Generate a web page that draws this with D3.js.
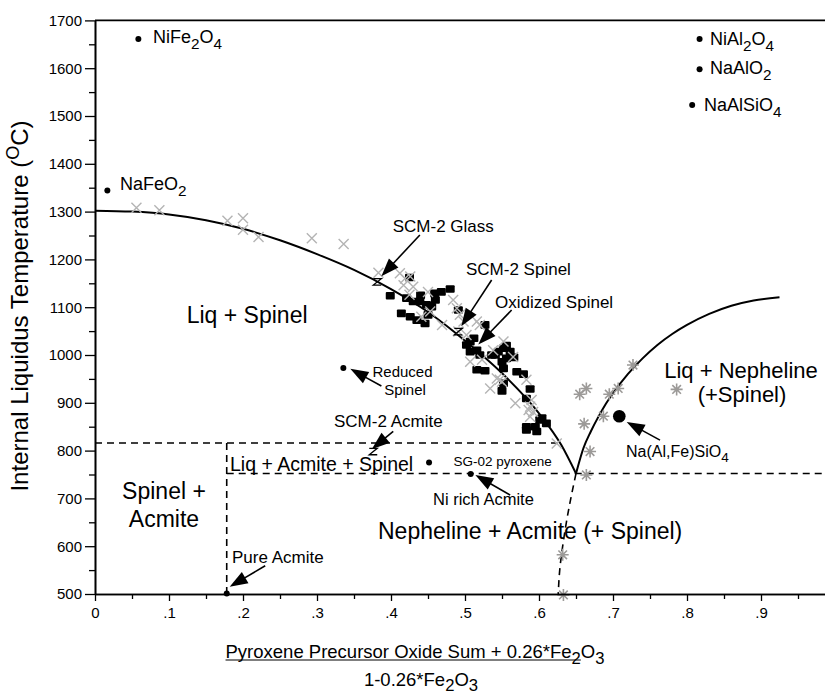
<!DOCTYPE html>
<html><head><meta charset="utf-8">
<script src="https://cdn.jsdelivr.net/npm/d3@7"></script>
<style>
body{margin:0;background:#fff}
svg{display:block}
text{font-family:Arial,"Liberation Sans",Helvetica,sans-serif;fill:#000}
</style>
</head><body>
<svg id="chart" width="825" height="698"></svg>
<script>
// ---------------- data ----------------
const yTicks = [500,600,700,800,900,1000,1100,1200,1300,1400,1500,1600,1700];
const yMinorTicks = [550,650,750,850,950,1050,1150,1250,1350,1450,1550,1650];
const xTicks = [0,0.1,0.2,0.3,0.4,0.5,0.6,0.7,0.8,0.9];
const xTickLabels = ["0",".1",".2",".3",".4",".5",".6",".7",".8",".9"];
const xMinorTicks = [0.05,0.15,0.25,0.35,0.45,0.55,0.65,0.75,0.85,0.95];

// liquidus / phase boundary curves [x, T]
const spinelLiquidus = [[0,1302],[0.05,1300],[0.1,1294],[0.15,1282],[0.2,1264],[0.25,1240],[0.3,1211],[0.35,1178],[0.4,1138],[0.45,1090],[0.5,1030],[0.55,962],[0.6,878],[0.63,812],[0.65,752]];
const nephelineLiquidus = [[0.65,752],[0.655,780],[0.66,805],[0.67,840],[0.68,870],[0.69,897],[0.70,920],[0.72,960],[0.74,993],[0.76,1021],[0.78,1044],[0.80,1063],[0.83,1086],[0.86,1103],[0.89,1114],[0.925,1121]];
const nephelineSolvus = [[0.65,752],[0.643,700],[0.637,650],[0.632,600],[0.628,550],[0.626,500]];
const acmiteUpper = [[0,816],[0.627,816]];
const acmiteVertical = [[0.178,816],[0.178,500]];
const acmiteLower = [[0.178,752],[1.0,752]];

// glass compositions (grey crosses)
const glassPoints = [[0.056,1308],[0.087,1303],[0.179,1281],[0.200,1286],[0.200,1262],[0.221,1247],[0.293,1244],[0.336,1232],[0.383,1172],[0.412,1171],[0.419,1160],[0.426,1164],[0.417,1146],[0.430,1143],[0.425,1126],[0.450,1132],[0.441,1080],[0.453,1091],[0.469,1063],[0.484,1115],[0.489,1098],[0.493,1084],[0.498,1070],[0.491,1049],[0.502,1042],[0.516,1070],[0.520,1063],[0.507,986],[0.523,990],[0.552,1028],[0.565,996],[0.543,951],[0.550,944],[0.534,930],[0.583,948],[0.568,899],[0.588,892],[0.592,881],[0.588,871],[0.624,815],[0.538,1010],[0.547,948],[0.586,885],[0.590,906]];
// spinel compositions (black squares)
const spinelPoints = [[0.399,1124],[0.425,1162],[0.421,1119],[0.430,1112],[0.439,1112],[0.448,1105],[0.455,1101],[0.459,1129],[0.468,1132],[0.480,1138],[0.414,1087],[0.426,1080],[0.435,1073],[0.446,1066],[0.450,1084],[0.491,1094],[0.502,1021],[0.507,1007],[0.516,1010],[0.527,1063],[0.536,1000],[0.545,1007],[0.552,1014],[0.556,993],[0.550,986],[0.552,972],[0.516,969],[0.527,967],[0.570,965],[0.579,960],[0.588,929],[0.550,925],[0.583,909],[0.604,868],[0.507,1028],[0.561,1007],[0.552,941],[0.601,864],[0.583,850],[0.595,850],[0.610,857],[0.583,843],[0.597,840],[0.541,1000],[0.556,1020],[0.566,995],[0.512,1035],[0.520,1000],[0.460,1115],[0.440,1125]];
// nepheline compositions (grey asterisks)
const nephelinePoints = [[0.727,979],[0.655,918],[0.664,930],[0.695,918],[0.707,930],[0.786,928],[0.687,872],[0.661,856],[0.669,798],[0.664,749],[0.632,582],[0.633,498]];
// SCM-2 phases (hourglass)
const scmPoints = [[0.3815,1153],[0.491,1049],[0.376,798]];

// end members / reference compositions
const endMemberNames = ["NiFe_2O_4","NaFeO_2","NiAl_2O_4","NaAlO_2","NaAlSiO_4"];
const endMemberX = [0.0586,0.0167,0.817,0.817,0.807];
const endMemberT = [1661,1344,1661,1598,1523];

const refNames = ["Reduced Spinel","SG-02 pyroxene","Ni rich Acmite","Pure Acmite"];
const refX = [0.3356,0.4514,0.5077,0.178];
const refT = [973,775,751,501];
const nephelineRef = [0.7085,872];

const regionLabels = ["Liq + Spinel","Spinel +","Acmite","Nepheline + Acmite (+ Spinel)","Liq + Nepheline","(+Spinel)","Liq + Acmite + Spinel"];
const calloutLabels = ["SCM-2 Glass","SCM-2 Spinel","Oxidized Spinel","SCM-2 Acmite","Reduced","Spinel","SG-02 pyroxene","Ni rich Acmite","Pure Acmite","Na(Al,Fe)SiO_4"];
// arrows: [tailX, tailT, tipX, tipT]
const arrows = [[0.439,1251,0.387,1165],[0.536,1157,0.495,1060],[0.563,1094,0.518,1022],[0.387,935,0.345,971],[0.403,840,0.374,803],[0.561,707,0.514,749],[0.230,559,0.182,515],[0.7635,822,0.7185,860]];

const yTitle = "Internal Liquidus Temperature (^OC)";
const xTitle1 = "Pyroxene Precursor Oxide Sum + 0.26*Fe_2O_3";
const xTitle2 = "1-0.26*Fe_2O_3";

// ---------------- chart ----------------
const svg = d3.select("#chart");
const x = d3.scaleLinear().domain([0,1]).range([95,835]);
const y = d3.scaleLinear().domain([500,1700]).range([594,20.4]);

function rich(t, str, scale, subShift) {
  const fs = parseFloat(t.attr("font-size"));
  scale = scale || 0.8;
  subShift = subShift || 0.32;
  let cur = 0;
  str.split(/([_^].)/).filter(Boolean).forEach(p => {
    let target = 0, s = p, sz = null;
    if (p[0] === "_") { target = fs*subShift; s = p[1]; sz = fs*scale; }
    else if (p[0] === "^") { target = -fs*0.38; s = p[1]; sz = fs*scale; }
    const ts = t.append("tspan").attr("dy", target - cur).text(s);
    if (sz) ts.attr("font-size", sz);
    cur = target;
  });
  return t;
}

// phase boundaries (dashed)
const line = d3.line().x(d => x(d[0])).y(d => y(d[1]));
[acmiteUpper, acmiteVertical, acmiteLower].forEach(seg => {
  svg.append("path").attr("d", line(seg)).attr("fill","none").attr("stroke","#000")
    .attr("stroke-width",1.6).attr("stroke-dasharray","7,5");
});
svg.append("path").attr("d", d3.line().x(d => x(d[0])).y(d => y(d[1])).curve(d3.curveMonotoneY)(nephelineSolvus)).attr("fill","none")
  .attr("stroke","#000").attr("stroke-width",1.6).attr("stroke-dasharray","7,5");

// liquidus curves
const curve = d3.line().x(d => x(d[0])).y(d => y(d[1])).curve(d3.curveMonotoneX);
[spinelLiquidus, nephelineLiquidus].forEach(c => {
  svg.append("path").attr("d", curve(c)).attr("fill","none").attr("stroke","#000").attr("stroke-width",2);
});

// markers
svg.append("g").selectAll("rect").data(spinelPoints).join("rect")
  .attr("x", d => x(d[0]) - 4.5).attr("y", d => y(d[1]) - 3.8)
  .attr("width", 9).attr("height", 7.6).attr("rx", 1).attr("fill", "#000");
svg.append("g").selectAll("path").data(glassPoints).join("path")
  .attr("transform", d => `translate(${x(d[0])},${y(d[1])})`)
  .attr("d","M-5,-5L5,5M-5,5L5,-5").attr("stroke","#b4b4b4").attr("stroke-width",1.4).attr("fill","none");
svg.append("g").selectAll("path").data(nephelinePoints).join("path")
  .attr("transform", d => `translate(${x(d[0])},${y(d[1])})`)
  .attr("d","M-6,0H6M0,-6V6M-4.3,-4.3L4.3,4.3M-4.3,4.3L4.3,-4.3").attr("stroke","#9c9a98").attr("stroke-width",1.6).attr("fill","none");
svg.append("g").selectAll("path").data(scmPoints).join("path")
  .attr("transform", d => `translate(${x(d[0])},${y(d[1])})`)
  .attr("d","M-4,-3.2H4L-4,3.2H4").attr("stroke","#000").attr("stroke-width",1.3).attr("fill","none");

// dots
svg.append("g").selectAll("circle").data(endMemberX.map((v,i)=>[v,endMemberT[i]])).join("circle")
  .attr("cx", d => x(d[0])).attr("cy", d => y(d[1])).attr("r", 3).attr("fill","#000");
svg.append("g").selectAll("circle").data(refX.map((v,i)=>[v,refT[i]])).join("circle")
  .attr("cx", d => x(d[0])).attr("cy", d => y(d[1])).attr("r", 3).attr("fill","#000");
svg.append("circle").attr("cx", x(nephelineRef[0])).attr("cy", y(nephelineRef[1])).attr("r", 6.3).attr("fill","#000");

// arrows
arrows.forEach(a => {
  const x1 = x(a[0]), y1 = y(a[1]), x2 = x(a[2]), y2 = y(a[3]);
  const dx = x2-x1, dy = y2-y1, L = Math.hypot(dx,dy), ux = dx/L, uy = dy/L;
  const len = 18, hw = 6.5;
  const bx = x2-ux*len, by = y2-uy*len;
  svg.append("line").attr("x1",x1).attr("y1",y1).attr("x2",bx+ux*2).attr("y2",by+uy*2)
    .attr("stroke","#000").attr("stroke-width",1.6);
  svg.append("path").attr("d",`M${x2},${y2}L${bx-uy*hw},${by+ux*hw}L${bx+uy*hw},${by-ux*hw}Z`).attr("fill","#000");
});

// axes
const yAxis = d3.axisLeft(y).tickValues(yTicks).tickSize(10).tickSizeOuter(0).tickPadding(3).tickFormat(d3.format("d"));
const gy = svg.append("g").attr("transform","translate(95,0)").call(yAxis);
const yMinor = d3.axisLeft(y).tickValues(yMinorTicks).tickSize(6).tickSizeOuter(0).tickFormat("");
const gym = svg.append("g").attr("transform","translate(95,0)").call(yMinor);
const xAxis = d3.axisBottom(x).tickValues(xTicks).tickSize(7).tickSizeOuter(0).tickPadding(6).tickFormat((d,i)=>xTickLabels[i]);
const gx = svg.append("g").attr("transform","translate(0,594)").call(xAxis);
const xMinor = d3.axisBottom(x).tickValues(xMinorTicks).tickSize(5).tickSizeOuter(0).tickFormat("");
const gxm = svg.append("g").attr("transform","translate(0,594)").call(xMinor);
[gy,gym,gx,gxm].forEach(g => {
  g.select(".domain").attr("stroke-width",1.6);
  g.selectAll(".tick line").attr("stroke-width",1.3);
  g.selectAll("text").attr("font-size",15).attr("font-family",'Arial,"Liberation Sans",sans-serif').attr("fill","#000");
});
// top frame
svg.append("line").attr("x1",x(0)).attr("x2",x(1)).attr("y1",y(1700)).attr("y2",y(1700))
  .attr("stroke","#000").attr("stroke-width",1.6);

// end member labels
const emPos = [[153,43],[120,190],[710,45],[710,74],[704,111]];
endMemberNames.forEach((n,i) => {
  rich(svg.append("text").attr("x",emPos[i][0]).attr("y",emPos[i][1]).attr("font-size",18), n, 0.85);
});

// region labels
const regPos = [[186.7,323,"start",23],[164,499,"middle",23],[164,527,"middle",23],[378,539,"start",23],[741,378,"middle",22],[742,402,"middle",22],[230,471,"start",19.5]];
regionLabels.forEach((n,i) => {
  svg.append("text").attr("x",regPos[i][0]).attr("y",regPos[i][1]).attr("text-anchor",regPos[i][2])
    .attr("font-size",regPos[i][3]).text(n);
});

// callout labels
const calPos = [[392.7,231.7,"start",17],[466,275,"start",17],[495,308,"start",17],[334,426.7,"start",17],[402.5,377,"middle",15],[405,395,"middle",15],[551.7,465.7,"end",13.5],[433,505,"start",16.5],[232,562.7,"start",17],[626,456.7,"start",16]];
calloutLabels.forEach((n,i) => {
  rich(svg.append("text").attr("x",calPos[i][0]).attr("y",calPos[i][1]).attr("text-anchor",calPos[i][2])
    .attr("font-size",calPos[i][3]), n, 0.85);
});

// axis titles
rich(svg.append("text").attr("transform","translate(28,306) rotate(-90)").attr("text-anchor","middle").attr("font-size",24), yTitle, 0.75);
const t1 = rich(svg.append("text").attr("x",415).attr("y",658).attr("text-anchor","middle").attr("font-size",18.5), xTitle1, 0.9, 0.3);
const n1 = t1.node();
const nch = n1.getNumberOfChars();
const ux0 = n1.getStartPositionOfChar(0).x;
const ux1 = n1.getStartPositionOfChar(nch-2).x;
svg.append("line").attr("x1",ux0).attr("x2",ux1).attr("y1",660).attr("y2",660).attr("stroke","#000").attr("stroke-width",1.2);
rich(svg.append("text").attr("x",421).attr("y",686).attr("text-anchor","middle").attr("font-size",18.5), xTitle2, 0.9, 0.25);
</script>
</body></html>
